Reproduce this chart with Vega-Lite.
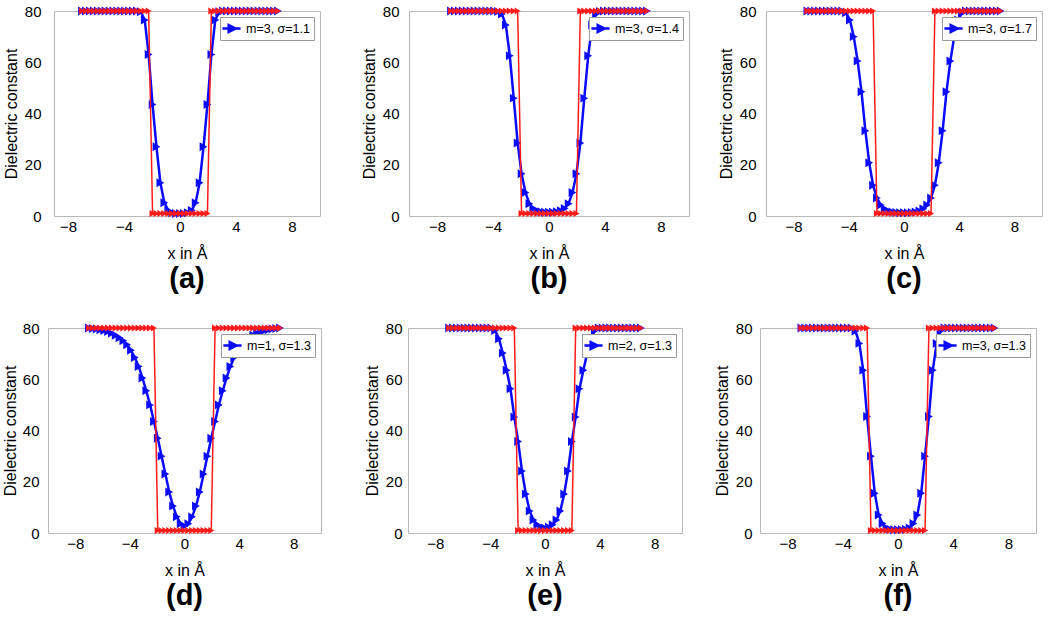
{
  "$schema": "https://vega.github.io/schema/vega-lite/v6.json",
  "padding": {"left": 0, "top": 3, "right": 0, "bottom": 0},
  "background": "white",
  "config": {
    "font": "Liberation Sans",
    "view": {"stroke": "#b8b8b8", "strokeWidth": 1},
    "axis": {"grid": false, "ticks": false, "domain": false, "labelFlush": false, "labelFont": "Liberation Sans", "labelFontSize": 15, "labelColor": "#000000", "titleFont": "Liberation Sans", "titleFontSize": 16, "titleFontWeight": "normal", "titleColor": "#000000"},
    "axisX": {"labelPadding": 3, "titlePadding": 11},
    "axisY": {"labelPadding": 10, "titlePadding": 5},
    "title": {"font": "Liberation Sans", "fontSize": 29, "fontWeight": "bold", "orient": "bottom", "offset": 4, "anchor": "middle", "color": "#000000"},
    "legend": {"orient": "top-right", "offset": 6, "title": null, "symbolType": "M-1.3,0H1.3M-0.4,-0.5L0.6,0L-0.4,0.5Z", "symbolSize": 196, "symbolStrokeWidth": 2.5, "labelFont": "Liberation Sans", "labelFontSize": 12.5, "labelColor": "#000000", "strokeColor": "#9a9a9a", "fillColor": "#ffffff", "padding": 3, "labelOffset": 6}
  },
  "datasets": {
    "none": [],
    "prof": [
      {"x": -7, "a": 80, "b": 80, "c": 80, "d": 80, "e": 80, "f": 80, "r": 80},
      {"x": -6.72, "a": 80, "b": 80, "c": 80, "d": 79.8, "e": 80, "f": 80, "r": 80},
      {"x": -6.44, "a": 80, "b": 80, "c": 80, "d": 79.6, "e": 80, "f": 80, "r": 80},
      {"x": -6.16, "a": 80, "b": 80, "c": 80, "d": 79.3, "e": 80, "f": 80, "r": 80},
      {"x": -5.88, "a": 80, "b": 80, "c": 80, "d": 79, "e": 80, "f": 80, "r": 80},
      {"x": -5.6, "a": 80, "b": 80, "c": 80, "d": 78.6, "e": 80, "f": 80, "r": 80},
      {"x": -5.32, "a": 80, "b": 80, "c": 80, "d": 78, "e": 80, "f": 80, "r": 80},
      {"x": -5.04, "a": 80, "b": 80, "c": 80, "d": 77.2, "e": 80, "f": 80, "r": 80},
      {"x": -4.76, "a": 80, "b": 80, "c": 80, "d": 76.2, "e": 80, "f": 80, "r": 80},
      {"x": -4.48, "a": 80, "b": 80, "c": 80, "d": 75, "e": 80, "f": 80, "r": 80},
      {"x": -4.2, "a": 80, "b": 80, "c": 79.3, "d": 73.5, "e": 80, "f": 80, "r": 80},
      {"x": -3.92, "a": 80, "b": 80, "c": 76.5, "d": 71.3, "e": 80, "f": 80, "r": 80},
      {"x": -3.64, "a": 80, "b": 79.8, "c": 70, "d": 68.5, "e": 79, "f": 80, "r": 80},
      {"x": -3.36, "a": 80, "b": 78.8, "c": 60.5, "d": 65, "e": 75.8, "f": 80, "r": 80},
      {"x": -3.08, "a": 80, "b": 74.5, "c": 48.5, "d": 60.5, "e": 70.2, "f": 78.8, "r": 80},
      {"x": -2.8, "a": 79.7, "b": 62.5, "c": 33.3, "d": 55.5, "e": 63.5, "f": 74, "r": 80},
      {"x": -2.52, "a": 76.5, "b": 46, "c": 20.8, "d": 50, "e": 56.3, "f": 63.5, "r": 80},
      {"x": -2.24, "a": 63, "b": 28.5, "c": 12, "d": 43.5, "e": 45.3, "f": 45.5, "r": 80},
      {"x": -1.96, "a": 43.5, "b": 16.5, "c": 7, "d": 37, "e": 35.7, "f": 30, "r": 1},
      {"x": -1.68, "a": 27, "b": 9.2, "c": 4.3, "d": 30, "e": 24.2, "f": 15.5, "r": 1},
      {"x": -1.4, "a": 13, "b": 4.8, "c": 2.8, "d": 23, "e": 15.2, "f": 7, "r": 1},
      {"x": -1.12, "a": 5.2, "b": 2.9, "c": 2, "d": 16, "e": 8.6, "f": 3.7, "r": 1},
      {"x": -0.84, "a": 2.2, "b": 2.1, "c": 1.6, "d": 10.5, "e": 5.1, "f": 2, "r": 1},
      {"x": -0.56, "a": 1.3, "b": 1.7, "c": 1.4, "d": 6.3, "e": 3.2, "f": 1.5, "r": 1},
      {"x": -0.28, "a": 1, "b": 1.5, "c": 1.3, "d": 3.6, "e": 2.3, "f": 1.3, "r": 1},
      {"x": 0, "a": 1, "b": 1.5, "c": 1.3, "d": 2.6, "e": 2, "f": 1.3, "r": 1},
      {"x": 0.28, "a": 1, "b": 1.5, "c": 1.3, "d": 3.6, "e": 2.3, "f": 1.3, "r": 1},
      {"x": 0.56, "a": 1.3, "b": 1.7, "c": 1.4, "d": 6.3, "e": 3.2, "f": 1.5, "r": 1},
      {"x": 0.84, "a": 2.2, "b": 2.1, "c": 1.6, "d": 10.5, "e": 5.1, "f": 2, "r": 1},
      {"x": 1.12, "a": 5.2, "b": 2.9, "c": 2, "d": 16, "e": 8.6, "f": 3.7, "r": 1},
      {"x": 1.4, "a": 13, "b": 4.8, "c": 2.8, "d": 23, "e": 15.2, "f": 7, "r": 1},
      {"x": 1.68, "a": 27, "b": 9.2, "c": 4.3, "d": 30, "e": 24.2, "f": 15.5, "r": 1},
      {"x": 1.96, "a": 43.5, "b": 16.5, "c": 7, "d": 37, "e": 35.7, "f": 30, "r": 1},
      {"x": 2.24, "a": 63, "b": 28.5, "c": 12, "d": 43.5, "e": 45.3, "f": 45.5, "r": 80},
      {"x": 2.52, "a": 76.5, "b": 46, "c": 20.8, "d": 50, "e": 56.3, "f": 63.5, "r": 80},
      {"x": 2.8, "a": 79.7, "b": 62.5, "c": 33.3, "d": 55.5, "e": 63.5, "f": 74, "r": 80},
      {"x": 3.08, "a": 80, "b": 74.5, "c": 48.5, "d": 60.5, "e": 70.2, "f": 78.8, "r": 80},
      {"x": 3.36, "a": 80, "b": 78.8, "c": 60.5, "d": 65, "e": 75.8, "f": 80, "r": 80},
      {"x": 3.64, "a": 80, "b": 79.8, "c": 70, "d": 68.5, "e": 79, "f": 80, "r": 80},
      {"x": 3.92, "a": 80, "b": 80, "c": 76.5, "d": 71.3, "e": 80, "f": 80, "r": 80},
      {"x": 4.2, "a": 80, "b": 80, "c": 79.3, "d": 73.5, "e": 80, "f": 80, "r": 80},
      {"x": 4.48, "a": 80, "b": 80, "c": 80, "d": 75, "e": 80, "f": 80, "r": 80},
      {"x": 4.76, "a": 80, "b": 80, "c": 80, "d": 76.2, "e": 80, "f": 80, "r": 80},
      {"x": 5.04, "a": 80, "b": 80, "c": 80, "d": 77.2, "e": 80, "f": 80, "r": 80},
      {"x": 5.32, "a": 80, "b": 80, "c": 80, "d": 78, "e": 80, "f": 80, "r": 80},
      {"x": 5.6, "a": 80, "b": 80, "c": 80, "d": 78.6, "e": 80, "f": 80, "r": 80},
      {"x": 5.88, "a": 80, "b": 80, "c": 80, "d": 79, "e": 80, "f": 80, "r": 80},
      {"x": 6.16, "a": 80, "b": 80, "c": 80, "d": 79.3, "e": 80, "f": 80, "r": 80},
      {"x": 6.44, "a": 80, "b": 80, "c": 80, "d": 79.6, "e": 80, "f": 80, "r": 80},
      {"x": 6.72, "a": 80, "b": 80, "c": 80, "d": 79.8, "e": 80, "f": 80, "r": 80},
      {"x": 7, "a": 80, "b": 80, "c": 80, "d": 80, "e": 80, "f": 80, "r": 80}
    ]
  },
  "resolve": {"scale": {"color": "independent"}, "legend": {"color": "independent"}},
  "spacing": 25,
  "vconcat": [
    {
      "resolve": {"scale": {"color": "independent"}, "legend": {"color": "independent"}},
      "spacing": 0,
      "hconcat": [
        {"width": 2, "height": 1, "data": {"name": "none"}, "mark": {"type": "rect", "opacity": 0}, "encoding": {}, "view": {"stroke": null}},
        {
          "resolve": {"scale": {"color": "independent"}, "legend": {"color": "independent"}},
          "spacing": 39,
          "hconcat": [
            {
              "width": 266, "height": 205,
              "title": {"text": "(a)"},
              "data": {"name": "prof"},
              "encoding": {"x": {"field": "x", "type": "quantitative", "scale": {"domain": [-9, 10], "nice": false, "zero": false}, "axis": {"values": [-8, -4, 0, 4, 8], "title": "x  in Å"}}},
              "layer": [
                {"mark": {"type": "line", "color": "#0a0aff", "strokeWidth": 2.5}, "encoding": {"y": {"field": "a", "type": "quantitative", "scale": {"domain": [0, 80], "nice": false}, "axis": {"values": [0, 20, 40, 60, 80], "title": "Dielectric constant", "labelPadding": 13}}, "color": {"datum": "m=3, σ=1.1", "type": "nominal", "scale": {"range": ["#0a0aff"]}, "legend": {"symbolFillColor": "#0a0aff", "symbolStrokeColor": "#0a0aff"}}}},
                {"mark": {"type": "point", "shape": "triangle-right", "filled": true, "size": 80, "color": "#0a0aff", "opacity": 1}, "encoding": {"y": {"field": "a", "type": "quantitative"}}},
                {"mark": {"type": "line", "color": "#ff1a1a", "strokeWidth": 1.5}, "encoding": {"y": {"field": "r", "type": "quantitative"}}},
                {"mark": {"type": "point", "shape": "triangle-right", "filled": true, "size": 50, "color": "#ff1a1a", "opacity": 1}, "encoding": {"y": {"field": "r", "type": "quantitative"}}}
              ]
            },
            {
              "resolve": {"scale": {"color": "independent"}, "legend": {"color": "independent"}},
              "spacing": 27,
              "hconcat": [
                {
                  "width": 280, "height": 205,
                  "title": {"text": "(b)"},
                  "data": {"name": "prof"},
                  "encoding": {"x": {"field": "x", "type": "quantitative", "scale": {"domain": [-10, 10], "nice": false, "zero": false}, "axis": {"values": [-8, -4, 0, 4, 8], "title": "x  in Å"}}},
                  "layer": [
                    {"mark": {"type": "line", "color": "#0a0aff", "strokeWidth": 2.5}, "encoding": {"y": {"field": "b", "type": "quantitative", "scale": {"domain": [0, 80], "nice": false}, "axis": {"values": [0, 20, 40, 60, 80], "title": "Dielectric constant"}}, "color": {"datum": "m=3, σ=1.4", "type": "nominal", "scale": {"range": ["#0a0aff"]}, "legend": {"symbolFillColor": "#0a0aff", "symbolStrokeColor": "#0a0aff"}}}},
                    {"mark": {"type": "point", "shape": "triangle-right", "filled": true, "size": 80, "color": "#0a0aff", "opacity": 1}, "encoding": {"y": {"field": "b", "type": "quantitative"}}},
                    {"mark": {"type": "line", "color": "#ff1a1a", "strokeWidth": 1.5}, "encoding": {"y": {"field": "r", "type": "quantitative"}}},
                    {"mark": {"type": "point", "shape": "triangle-right", "filled": true, "size": 50, "color": "#ff1a1a", "opacity": 1}, "encoding": {"y": {"field": "r", "type": "quantitative"}}}
                  ]
                },
                {
                  "width": 276, "height": 205,
                  "title": {"text": "(c)"},
                  "data": {"name": "prof"},
                  "encoding": {"x": {"field": "x", "type": "quantitative", "scale": {"domain": [-10, 10], "nice": false, "zero": false}, "axis": {"values": [-8, -4, 0, 4, 8], "title": "x  in Å"}}},
                  "layer": [
                    {"mark": {"type": "line", "color": "#0a0aff", "strokeWidth": 2.5}, "encoding": {"y": {"field": "c", "type": "quantitative", "scale": {"domain": [0, 80], "nice": false}, "axis": {"values": [0, 20, 40, 60, 80], "title": "Dielectric constant"}}, "color": {"datum": "m=3, σ=1.7", "type": "nominal", "scale": {"range": ["#0a0aff"]}, "legend": {"symbolFillColor": "#0a0aff", "symbolStrokeColor": "#0a0aff"}}}},
                    {"mark": {"type": "point", "shape": "triangle-right", "filled": true, "size": 80, "color": "#0a0aff", "opacity": 1}, "encoding": {"y": {"field": "c", "type": "quantitative"}}},
                    {"mark": {"type": "line", "color": "#ff1a1a", "strokeWidth": 1.5}, "encoding": {"y": {"field": "r", "type": "quantitative"}}},
                    {"mark": {"type": "point", "shape": "triangle-right", "filled": true, "size": 50, "color": "#ff1a1a", "opacity": 1}, "encoding": {"y": {"field": "r", "type": "quantitative"}}}
                  ]
                }
              ]
            }
          ]
        }
      ]
    },
    {
      "resolve": {"scale": {"color": "independent"}, "legend": {"color": "independent"}},
      "spacing": 0,
      "hconcat": [
        {"width": 1, "height": 1, "data": {"name": "none"}, "mark": {"type": "rect", "opacity": 0}, "encoding": {}, "view": {"stroke": null}},
        {
          "resolve": {"scale": {"color": "independent"}, "legend": {"color": "independent"}},
          "spacing": 41,
          "hconcat": [
            {
              "width": 273, "height": 205,
              "title": {"text": "(d)"},
              "data": {"name": "prof"},
              "encoding": {"x": {"field": "x", "type": "quantitative", "scale": {"domain": [-10, 10], "nice": false, "zero": false}, "axis": {"values": [-8, -4, 0, 4, 8], "title": "x  in Å"}}},
              "layer": [
                {"mark": {"type": "line", "color": "#0a0aff", "strokeWidth": 2.5}, "encoding": {"y": {"field": "d", "type": "quantitative", "scale": {"domain": [0, 80], "nice": false}, "axis": {"values": [0, 20, 40, 60, 80], "title": "Dielectric constant", "labelPadding": 9, "titlePadding": 4}}, "color": {"datum": "m=1, σ=1.3", "type": "nominal", "scale": {"range": ["#0a0aff"]}, "legend": {"symbolFillColor": "#0a0aff", "symbolStrokeColor": "#0a0aff"}}}},
                {"mark": {"type": "point", "shape": "triangle-right", "filled": true, "size": 80, "color": "#0a0aff", "opacity": 1}, "encoding": {"y": {"field": "d", "type": "quantitative"}}},
                {"mark": {"type": "line", "color": "#ff1a1a", "strokeWidth": 1.5}, "encoding": {"y": {"field": "r", "type": "quantitative"}}},
                {"mark": {"type": "point", "shape": "triangle-right", "filled": true, "size": 50, "color": "#ff1a1a", "opacity": 1}, "encoding": {"y": {"field": "r", "type": "quantitative"}}}
              ]
            },
            {
              "resolve": {"scale": {"color": "independent"}, "legend": {"color": "independent"}},
              "spacing": 30,
              "hconcat": [
                {
                  "width": 274, "height": 205,
                  "title": {"text": "(e)"},
                  "data": {"name": "prof"},
                  "encoding": {"x": {"field": "x", "type": "quantitative", "scale": {"domain": [-10, 10], "nice": false, "zero": false}, "axis": {"values": [-8, -4, 0, 4, 8], "title": "x  in Å"}}},
                  "layer": [
                    {"mark": {"type": "line", "color": "#0a0aff", "strokeWidth": 2.5}, "encoding": {"y": {"field": "e", "type": "quantitative", "scale": {"domain": [0, 80], "nice": false}, "axis": {"values": [0, 20, 40, 60, 80], "title": "Dielectric constant", "labelPadding": 6}}, "color": {"datum": "m=2, σ=1.3", "type": "nominal", "scale": {"range": ["#0a0aff"]}, "legend": {"symbolFillColor": "#0a0aff", "symbolStrokeColor": "#0a0aff"}}}},
                    {"mark": {"type": "point", "shape": "triangle-right", "filled": true, "size": 80, "color": "#0a0aff", "opacity": 1}, "encoding": {"y": {"field": "e", "type": "quantitative"}}},
                    {"mark": {"type": "line", "color": "#ff1a1a", "strokeWidth": 1.5}, "encoding": {"y": {"field": "r", "type": "quantitative"}}},
                    {"mark": {"type": "point", "shape": "triangle-right", "filled": true, "size": 50, "color": "#ff1a1a", "opacity": 1}, "encoding": {"y": {"field": "r", "type": "quantitative"}}}
                  ]
                },
                {
                  "width": 276, "height": 205,
                  "title": {"text": "(f)"},
                  "data": {"name": "prof"},
                  "encoding": {"x": {"field": "x", "type": "quantitative", "scale": {"domain": [-10, 10], "nice": false, "zero": false}, "axis": {"values": [-8, -4, 0, 4, 8], "title": "x  in Å"}}},
                  "layer": [
                    {"mark": {"type": "line", "color": "#0a0aff", "strokeWidth": 2.5}, "encoding": {"y": {"field": "f", "type": "quantitative", "scale": {"domain": [0, 80], "nice": false}, "axis": {"values": [0, 20, 40, 60, 80], "title": "Dielectric constant", "labelPadding": 8}}, "color": {"datum": "m=3, σ=1.3", "type": "nominal", "scale": {"range": ["#0a0aff"]}, "legend": {"symbolFillColor": "#0a0aff", "symbolStrokeColor": "#0a0aff"}}}},
                    {"mark": {"type": "point", "shape": "triangle-right", "filled": true, "size": 80, "color": "#0a0aff", "opacity": 1}, "encoding": {"y": {"field": "f", "type": "quantitative"}}},
                    {"mark": {"type": "line", "color": "#ff1a1a", "strokeWidth": 1.5}, "encoding": {"y": {"field": "r", "type": "quantitative"}}},
                    {"mark": {"type": "point", "shape": "triangle-right", "filled": true, "size": 50, "color": "#ff1a1a", "opacity": 1}, "encoding": {"y": {"field": "r", "type": "quantitative"}}}
                  ]
                }
              ]
            }
          ]
        }
      ]
    }
  ]
}
